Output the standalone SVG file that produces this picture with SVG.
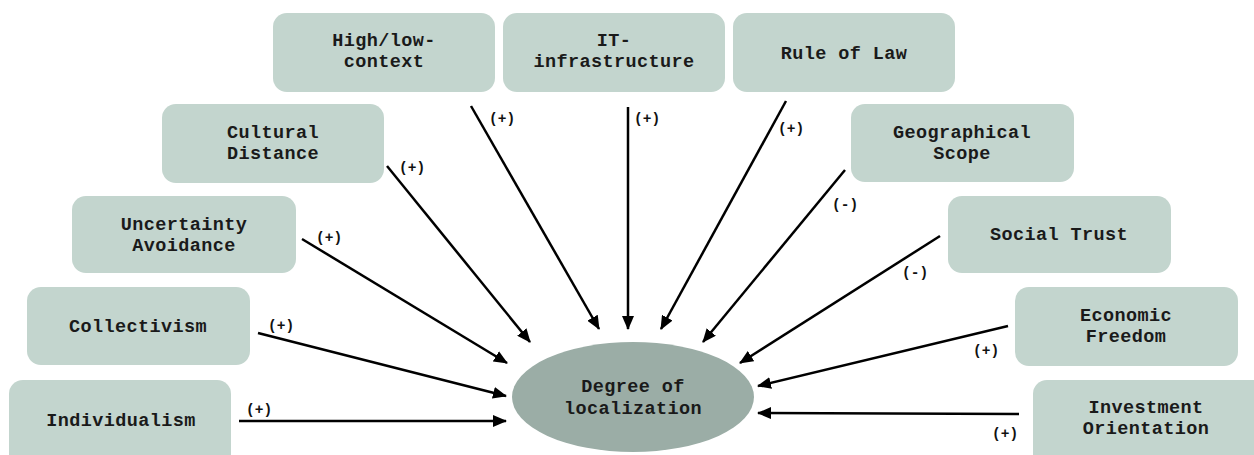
<svg xmlns="http://www.w3.org/2000/svg" width="1254" height="455" viewBox="0 0 1254 455">
<style>
.box{fill:#c3d5ce;}
.t{font-family:"Liberation Mono","Courier New",monospace;font-weight:bold;font-size:18.5px;fill:#1a1a1a;text-anchor:middle;letter-spacing:0.4px;}
.l{font-family:"Liberation Mono","Courier New",monospace;font-weight:bold;font-size:14.5px;fill:#111;}
.c{stroke:#000;stroke-width:2.5;fill:none;marker-end:url(#ah);}
</style>
<defs>
<marker id="ah" markerUnits="userSpaceOnUse" markerWidth="14" markerHeight="12" refX="13" refY="6" orient="auto">
<path d="M0,0 L14,6 L0,12 Z" fill="#000"/>
</marker>
</defs>
<rect width="1254" height="455" fill="#fff"/>
<g id="n-highlow"><rect class="box" x="273" y="13" width="222" height="79" rx="14"/><text class="t" x="384" y="46">High/low-</text><text class="t" x="384" y="67">context</text></g>
<g id="n-it"><rect class="box" x="503" y="13" width="222" height="79" rx="14"/><text class="t" x="614" y="46">IT-</text><text class="t" x="614" y="67">infrastructure</text></g>
<g id="n-law"><rect class="box" x="733" y="13" width="222" height="79" rx="14"/><text class="t" x="844" y="59">Rule of Law</text></g>
<g id="n-cultural"><rect class="box" x="162" y="104" width="222" height="79" rx="14"/><text class="t" x="273" y="138">Cultural</text><text class="t" x="273" y="159">Distance</text></g>
<g id="n-geo"><rect class="box" x="851" y="104" width="223" height="78" rx="14"/><text class="t" x="962" y="138">Geographical</text><text class="t" x="962" y="159">Scope</text></g>
<g id="n-uncert"><rect class="box" x="72" y="196" width="224" height="77" rx="14"/><text class="t" x="184" y="230">Uncertainty</text><text class="t" x="184" y="251">Avoidance</text></g>
<g id="n-social"><rect class="box" x="948" y="196" width="223" height="77" rx="14"/><text class="t" x="1059" y="240">Social Trust</text></g>
<g id="n-collect"><rect class="box" x="27" y="287" width="223" height="78" rx="14"/><text class="t" x="138" y="332">Collectivism</text></g>
<g id="n-econ"><rect class="box" x="1015" y="287" width="223" height="79" rx="14"/><text class="t" x="1126" y="321">Economic</text><text class="t" x="1126" y="342">Freedom</text></g>
<g id="n-indiv"><rect class="box" x="9" y="380" width="222" height="90" rx="14"/><text class="t" x="121" y="426">Individualism</text></g>
<g id="n-invest"><rect class="box" x="1033" y="380" width="240" height="90" rx="14"/><text class="t" x="1146" y="413">Investment</text><text class="t" x="1146" y="434">Orientation</text></g>
<g id="n-center"><ellipse cx="633" cy="397" rx="121" ry="55" fill="#9bada6"/><text class="t" x="633" y="392">Degree of</text><text class="t" x="633" y="414">localization</text></g>
<g id="connectors">
<line class="c" x1="239" y1="421" x2="506" y2="421"/>
<line class="c" x1="258" y1="333" x2="506" y2="396"/>
<line class="c" x1="302" y1="239" x2="507" y2="363"/>
<line class="c" x1="387" y1="166" x2="530" y2="342"/>
<line class="c" x1="471" y1="106" x2="599" y2="329"/>
<line class="c" x1="628" y1="107" x2="628" y2="329"/>
<line class="c" x1="786" y1="101" x2="661" y2="329"/>
<line class="c" x1="845" y1="170" x2="703" y2="342"/>
<line class="c" x1="940" y1="236" x2="740" y2="363"/>
<line class="c" x1="1008" y1="326" x2="758" y2="386"/>
<line class="c" x1="1019" y1="414" x2="758" y2="413"/>
<text class="l" x="246" y="414">(+)</text>
<text class="l" x="268" y="330">(+)</text>
<text class="l" x="316" y="242">(+)</text>
<text class="l" x="399" y="172">(+)</text>
<text class="l" x="489" y="123">(+)</text>
<text class="l" x="634" y="123">(+)</text>
<text class="l" x="778" y="133">(+)</text>
<text class="l" x="832" y="209">(-)</text>
<text class="l" x="902" y="277">(-)</text>
<text class="l" x="973" y="355">(+)</text>
<text class="l" x="992" y="438">(+)</text>
</g>
</svg>
